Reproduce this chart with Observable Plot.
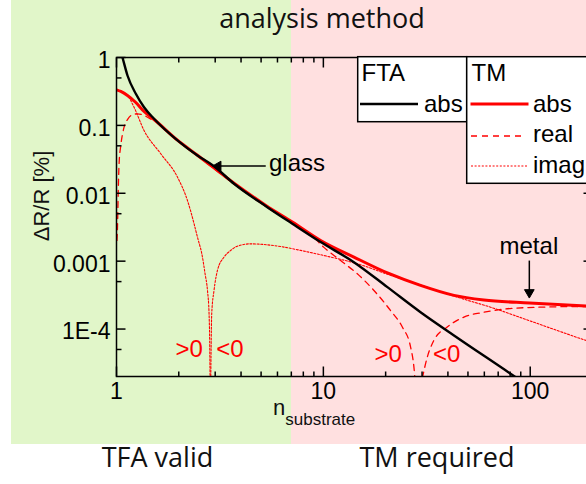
<!DOCTYPE html>
<html>
<head>
<meta charset="utf-8">
<script src="https://cdn.jsdelivr.net/npm/d3@7"></script>
<script src="https://cdn.jsdelivr.net/npm/@observablehq/plot@0.6"></script>
<style>
  html, body { margin: 0; padding: 0; background: #fff; overflow: hidden; }
  #fig { position: relative; width: 586px; height: 484px; overflow: hidden; background: #fff; }
  #fig > * { position: absolute; left: 0; top: 0; }
  .band { top: 37px; height: 444px; }
</style>
</head>
<body>
<div id="fig"></div>
<script>
// Relative reflectance change |ΔR/R| (%) versus substrate refractive index.

// Film-thickness approximation (FTA), absolute value
const ftaN   = [1.04, 1.069, 1.13, 1.24, 1.359, 1.519, 1.971, 2.462, 2.951, 3.70, 5.36, 7.08, 9.70, 14.05, 20.4, 29.5, 42.8, 80.3, 95];
const ftaAbs = [1.35, 1.0, 0.543, 0.292, 0.185, 0.125, 0.060, 0.0360, 0.0252, 0.0138, 0.00624, 0.00356, 0.00191, 0.000966, 0.000414, 0.000177, 0.0000805, 0.000022, 0.0000155];

// Transfer-matrix (TM) result, absolute value
const tmAbsN = [1.0, 1.049, 1.13, 1.24, 1.359, 1.519, 1.971, 2.462, 3.70, 5.36, 7.08, 9.70, 14.05, 20.7, 29.5, 42.8, 59.7, 99.2, 187, 200];
const tmAbs  = [0.334, 0.316, 0.276, 0.217, 0.160, 0.122, 0.0605, 0.0363, 0.0141, 0.0064, 0.00378, 0.00202, 0.00115, 0.000659, 0.000439, 0.000313, 0.000268, 0.000242, 0.000219, 0.000217];

// TM real part: positive branch, then magnitude of the negative branch
const tmRealPosN = [1.0056, 1.011, 1.020, 1.029, 1.049, 1.088, 1.134, 1.186, 1.263, 1.359, 1.465, 1.519, 1.971, 2.462, 3.70, 5.36, 7.08, 8.68, 10.03, 12.12, 14.59, 17.56, 21.1, 24.08, 26.41, 27.4, 27.77];
const tmRealPos  = [0.00202, 0.00317, 0.011, 0.0272, 0.0506, 0.0941, 0.124, 0.142, 0.148, 0.140, 0.124, 0.118, 0.0594, 0.0356, 0.0137, 0.0062, 0.00359, 0.00247, 0.00161, 0.00102, 0.000652, 0.000370, 0.000188, 0.000107, 0.0000541, 0.0000275, 0.0000175];
const tmRealNegN = [30.1, 31.8, 34.2, 39.7, 47.8, 59.7, 77.4, 112, 187, 200];
const tmRealNeg  = [0.000019, 0.0000386, 0.0000679, 0.000107, 0.000150, 0.000177, 0.000199, 0.000210, 0.000215, 0.000215];

// TM imaginary part: positive branch, then magnitude of the negative branch
const tmImagPosN = [1.0, 1.13, 1.216, 1.359, 1.637, 1.971, 2.203, 2.371, 2.462, 2.603, 2.680, 2.753, 2.802, 2.824, 2.834];
const tmImagPos  = [0.334, 0.276, 0.185, 0.0841, 0.0382, 0.0173, 0.00783, 0.00356, 0.00226, 0.00115, 0.000652, 0.000370, 0.000168, 0.0000541, 0.000018];
const tmImagNegN = [2.855, 2.886, 2.961, 3.076, 3.311, 3.566, 3.842, 4.455, 5.36, 6.45, 7.77, 10.07, 14.59, 21.1, 30.6, 44.4, 64.3, 93.1, 135, 187, 200];
const tmImagNeg  = [0.000018, 0.000168, 0.000370, 0.000730, 0.00115, 0.00144, 0.00166, 0.00180, 0.00174, 0.00161, 0.00144, 0.00121, 0.000916, 0.00062, 0.00043, 0.000295, 0.000210, 0.000142, 0.0000953, 0.0000679, 0.000064];

// Axes
const yTicks      = [1, 0.1, 0.01, 0.001, 1e-4];
const yTickLabels = ["1", "0.1", "0.01", "0.001", "1E-4"];
const yMinor      = [0.5, 0.05, 0.005, 5e-4, 5e-5];
const xTicks      = [1, 10, 100];
const xMinor      = [2, 3, 4, 5, 6, 7, 8, 9, 20, 30, 40, 50, 60, 70, 80, 90];

// Regions
const splitIndex  = 7;   // substrate index where the thin-film approximation stops being valid
const regionNames = ["TFA valid", "TM required"];

// Annotations
const glassLabel = [{label: "glass", n: 5.46, v: 0.0281}];
const metalLabel = [{label: "metal", n: 98.5, v: 0.00163}];
const pointers = [
  {n1: 5.265, v1: 0.0252, n2: 3.12, v2: 0.0252, head: 3.10, headV: 0.0252, rotate: -90},
  {n1: 99, v1: 0.00102, n2: 99, v2: 0.00036, head: 99, headV: 0.000346, rotate: 180}
];
const signLabels = [
  {label: ">0", n: 2.243, v: 5.0e-5},
  {label: "<0", n: 3.53,  v: 5.0e-5},
  {label: ">0", n: 20.56, v: 4.23e-5},
  {label: "<0", n: 39.5,  v: 4.23e-5}
];

const RED = "#ff0000";
const REAL_DASH = "6,5";
const IMAG_DASH = "2,1.6";
const zip = (ns, vs, branch) => ns.map((n, i) => ({n, v: vs[i], branch}));
const fta  = zip(ftaN, ftaAbs, "fta");
const tmA  = zip(tmAbsN, tmAbs, "abs");
const tmRe = [...zip(tmRealPosN, tmRealPos, "pos"), ...zip(tmRealNegN, tmRealNeg, "neg")];
const tmIm = [...zip(tmImagPosN, tmImagPos, "pos"), ...zip(tmImagNegN, tmImagNeg, "neg")];
const yLabelOf = new Map(yTicks.map((t, i) => [t, yTickLabels[i]]));

// Inward tick marks drawn as custom dot symbols
const tickSymbol = (dx, dy) => ({
  draw(ctx, size) {
    const l = Math.sqrt(size / Math.PI);
    ctx.moveTo(0, 0);
    ctx.lineTo(dx * l, dy * l);
  }
});
const tickMarks = (data, channel, anchor, dir, r) =>
  Plot.dot(data, {[channel]: d => d, frameAnchor: anchor, symbol: tickSymbol(...dir), r,
                  stroke: "black", strokeWidth: 1.5, fill: "none"});

const plot = Plot.plot({
  width: 600,
  height: 484,
  marginLeft: 116,
  marginRight: 8,
  marginTop: 57,
  marginBottom: 108,
  style: {background: "transparent", fontFamily: "'Liberation Sans', Arial, sans-serif", overflow: "visible", maxWidth: "none"},
  x: {type: "log", domain: [1, 200]},
  y: {type: "log", domain: [2e-5, 1]},
  marks: [
    Plot.line(tmIm, {x: "n", y: "v", z: "branch", stroke: RED, strokeWidth: 1.1, strokeDasharray: IMAG_DASH, curve: "monotone-x", clip: true}),
    Plot.line(tmRe, {x: "n", y: "v", z: "branch", stroke: RED, strokeWidth: 1.3, strokeDasharray: REAL_DASH, curve: "monotone-x", clip: true}),
    Plot.line(tmA, {x: "n", y: "v", stroke: RED, strokeWidth: 3, curve: "monotone-x", clip: true}),
    Plot.line(fta, {x: "n", y: "v", stroke: "black", strokeWidth: 2.4, curve: "monotone-x", clip: true}),
    Plot.frame({stroke: "black", strokeWidth: 1.5}),
    tickMarks(yTicks, "y", "left", [1, 0], 9),
    tickMarks(yMinor, "y", "left", [1, 0], 5),
    tickMarks(yTicks, "y", "right", [-1, 0], 9),
    tickMarks(yMinor, "y", "right", [-1, 0], 5),
    tickMarks(xTicks, "x", "bottom", [0, -1], 10),
    tickMarks(xMinor, "x", "bottom", [0, -1], 5),
    tickMarks(xTicks, "x", "top", [0, 1], 10),
    tickMarks(xMinor, "x", "top", [0, 1], 5),
    Plot.axisY(yTicks, {anchor: "left", tickSize: 0, tickPadding: 6, dy: 3, fontSize: 23, label: null, tickFormat: d => yLabelOf.get(d)}),
    Plot.axisX(xTicks, {anchor: "bottom", tickSize: 0, tickPadding: 6, fontSize: 23, label: null, tickFormat: d => String(d)}),
    Plot.link(pointers, {x1: "n1", y1: "v1", x2: "n2", y2: "v2", stroke: "black", strokeWidth: 1.5}),
    Plot.dot(pointers, {x: "head", y: "headV", symbol: "triangle", r: 3.6, rotate: "rotate", fill: "black", stroke: "black", strokeWidth: 1}),
    Plot.text(glassLabel, {x: "n", y: "v", text: "label", textAnchor: "start", fontSize: 24, fill: "black"}),
    Plot.text(metalLabel, {x: "n", y: "v", text: "label", textAnchor: "middle", fontSize: 24, fill: "black"}),
    Plot.text(signLabels, {x: "n", y: "v", text: "label", fontSize: 24, fill: RED})
  ]
});

const fig = d3.select("#fig");
const split = plot.scale("x").apply(splitIndex);

// Shaded regions behind the plot
fig.append("div").attr("class", "band")
  .style("left", "11px").style("width", `${split - 11}px`).style("background", "#e1f6c9");
fig.append("div").attr("class", "band")
  .style("left", `${split}px`).style("width", `${586 - split}px`).style("background", "#ffe0e0");

fig.node().appendChild(plot);

// Title, axis titles, region names and legend
const ov = fig.append("svg").attr("width", 586).attr("height", 484)
  .style("font-family", "'Liberation Sans', Arial, sans-serif");

ov.append("text").attr("x", 322).attr("y", 28).attr("text-anchor", "middle")
  .style("font-family", "'Open Sans', sans-serif").style("font-size", "27px").attr("fill", "#111")
  .text("analysis method");

ov.selectAll("text.region").data(regionNames).join("text").attr("class", "region")
  .attr("x", (d, i) => i === 0 ? 157.5 : 437).attr("y", 466.5).attr("text-anchor", "middle")
  .style("font-family", "'Open Sans', sans-serif").style("font-size", "27px").attr("fill", "#111")
  .text(d => d);

ov.append("text").attr("transform", "translate(48.5,196) rotate(-90)").attr("text-anchor", "middle")
  .style("font-size", "22px").attr("fill", "#111").text("ΔR/R [%]");

const xl = ov.append("text").attr("x", 273).attr("y", 415).style("font-size", "22px").attr("fill", "#111");
xl.append("tspan").text("n");
xl.append("tspan").attr("dy", 10).style("font-size", "17px").text("substrate");

// Legend boxes
const lg = ov.append("g").style("font-size", "24px");
lg.append("rect").attr("x", 357.7).attr("y", 56.7).attr("width", 109).attr("height", 65)
  .attr("fill", "white").attr("stroke", "black").attr("stroke-width", 1.5);
lg.append("rect").attr("x", 466.7).attr("y", 56.7).attr("width", 140).attr("height", 126.6)
  .attr("fill", "white").attr("stroke", "black").attr("stroke-width", 1.5);
lg.append("text").attr("x", 361.5).attr("y", 80.5).text("FTA");
lg.append("text").attr("x", 471.5).attr("y", 80.5).text("TM");

const legendRows = [
  {x1: 360, x2: 418, y: 104, tx: 424, ty: 112, stroke: "black", width: 2.4, dash: null, label: "abs"},
  {x1: 470.5, x2: 528.5, y: 104, tx: 533, ty: 112, stroke: RED, width: 3, dash: null, label: "abs"},
  {x1: 471, x2: 526, y: 136, tx: 533, ty: 142, stroke: RED, width: 1.3, dash: REAL_DASH, label: "real"},
  {x1: 471, x2: 528, y: 166, tx: 533, ty: 173, stroke: RED, width: 1.1, dash: IMAG_DASH, label: "imag"}
];
legendRows.forEach(r => {
  lg.append("line").attr("x1", r.x1).attr("x2", r.x2).attr("y1", r.y).attr("y2", r.y)
    .attr("stroke", r.stroke).attr("stroke-width", r.width).attr("stroke-dasharray", r.dash);
  lg.append("text").attr("x", r.tx).attr("y", r.ty).text(r.label);
});
</script>
</body>
</html>
